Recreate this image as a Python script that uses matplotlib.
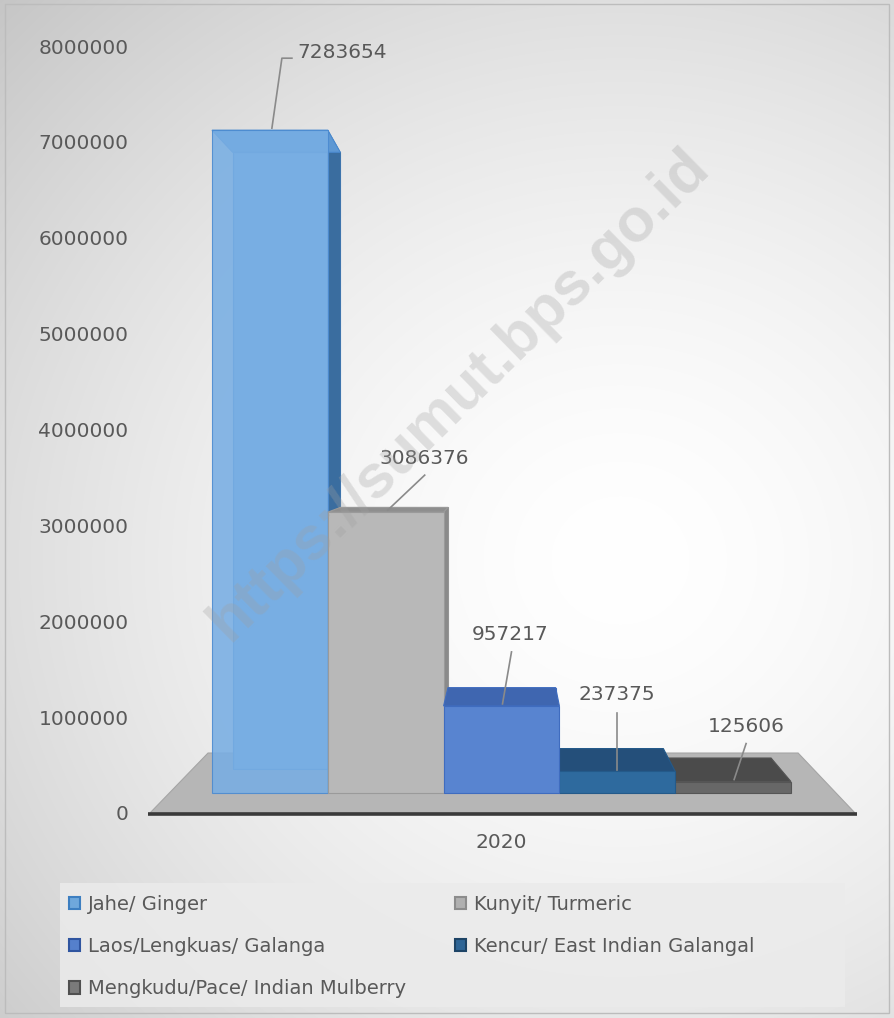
import numpy as np
import matplotlib
matplotlib.use('Agg')
import matplotlib.pyplot as plt
from matplotlib.patches import Polygon, Rectangle, Patch

# ---------------- data ----------------
categories = ['Jahe/ Ginger', 'Kunyit/ Turmeric', 'Laos/Lengkuas/ Galanga',
              'Kencur/ East Indian Galangal', 'Mengkudu/Pace/ Indian Mulberry']
values = [7283654, 3086376, 957217, 237375, 125606]
year_label = '2020'
y_ticks = [0, 1000000, 2000000, 3000000, 4000000, 5000000, 6000000, 7000000, 8000000]

# ---------------- styles ----------------
front_colors = ['#78aee3', '#b8b8b8', '#5884d0', '#2e6a9e', '#676767']
top_colors = ['#5e98d3', '#8e8e8e', '#3f66b0', '#244f7a', '#4b4b4b']
side_colors = ['#3a6d9f', '#8a8a8a', '#34589c', '#1c3f63', '#3c3c3c']
edge_colors = ['#4a8ad0', '#9a9a9a', '#3f6cbf', '#245a8a', '#555555']
front_alpha = [0.88, 1, 1, 1, 1]
legend_face = ['#6fa8dc', '#b0b0b0', '#5580cc', '#2e6596', '#7a7a7a']
legend_edge = ['#3d7fc1', '#8c8c8c', '#2f55a0', '#1d4466', '#505050']
text_color = '#595959'

W, H = 895, 1018
fig = plt.figure(figsize=(W / 100, H / 100), dpi=100)

# ---------------- background ----------------
bg = fig.add_axes([0, 0, 1, 1])
bg.set_xlim(0, W)
bg.set_ylim(H, 0)
bg.axis('off')
yy, xx = np.mgrid[0:H, 0:W]
d = np.sqrt(((xx - 620) / 700.0) ** 2 + ((yy - 560) / 650.0) ** 2)
g = 1 - 0.16 * np.clip(d, 0, 1.4) ** 1.6
rgb = np.dstack([g, g, g])
bg.imshow(rgb, extent=[0, W, H, 0], aspect='auto', zorder=0, interpolation='bilinear')
bg.add_patch(Rectangle((5, 4), W - 11, H - 9, fill=False, ec='#bcbcbc', lw=1, zorder=1))
bg.add_patch(Rectangle((60, 883), 785, 124, fc='#ebebeb', ec='none', alpha=0.85, zorder=1))

# ---------------- main drawing axes ----------------
PX_BAR = 115.8
X_LEFT_PX = 212
BASE_PX = 793
PX_PER_M = 91.0


def px2x(px):
    return (px - X_LEFT_PX) / PX_BAR - 0.5


def py2y(py):
    return (BASE_PX - py) / PX_PER_M * 1e6


def dpx(dx):
    return dx / PX_BAR


def dpy(dy):
    return -dy / PX_PER_M * 1e6


ax = fig.add_axes([0, 0, 1, 1])
ax.set_xlim(px2x(0), px2x(W))
ax.set_ylim(py2y(H), py2y(0))
ax.axis('off')
ax.patch.set_alpha(0)

V = (px2x(506), py2y(445))


def toward(p, k):
    return (p[0] + k * (V[0] - p[0]), p[1] + k * (V[1] - p[1]))


# floor
ff_l = (px2x(150), py2y(813))
ff_r = (px2x(855), py2y(813))
floor = [ff_l, ff_r, toward(ff_r, 0.163), toward(ff_l, 0.163)]
ax.add_patch(Polygon(floor, closed=True, fc='#b6b6b6', ec='#a5a5a5', lw=0.8, zorder=1))
ax.plot([px2x(148), px2x(857)], [py2y(814), py2y(814)], color='#3a3a3a', lw=2.6,
        solid_capstyle='butt', zorder=2)

# bars
xs = np.arange(len(values))
bars = ax.bar(xs, values, width=1.0, color=front_colors, edgecolor=edge_colors, linewidth=0.8)
KB = 0.07
order = sorted(range(len(values)), key=lambda i: -abs(xs[i] - V[0]))
for rank, i in enumerate(order):
    z = 3 + rank * 5
    v = values[i]
    x0, x1 = xs[i] - 0.5, xs[i] + 0.5
    FL0, FR0, FL1, FR1 = (x0, 0), (x1, 0), (x0, v), (x1, v)
    BL0, BR0, BL1, BR1 = toward(FL0, KB), toward(FR0, KB), toward(FL1, KB), toward(FR1, KB)
    ax.add_patch(Polygon([BL0, BR0, BR1, BL1], closed=True, fc=front_colors[i],
                         ec=edge_colors[i], lw=0.8, zorder=z))
    if x1 < V[0]:
        ax.add_patch(Polygon([FR0, FR1, BR1, BR0], closed=True, fc=side_colors[i],
                             ec=side_colors[i], lw=0.5, zorder=z + 1))
    if x0 > V[0]:
        ax.add_patch(Polygon([FL0, FL1, BL1, BL0], closed=True, fc=side_colors[i],
                             ec=side_colors[i], lw=0.5, zorder=z + 1))
    ax.add_patch(Polygon([FL1, FR1, BR1, BL1], closed=True, fc=top_colors[i],
                         ec=edge_colors[i], lw=0.8, zorder=z + 2))
    p = bars.patches[i]
    p.set_zorder(z + 3)
    p.set_alpha(front_alpha[i])

# data labels with leader lines (pixel offsets from bar front-top centre)
label_offsets = [(72, -78), (38, -54), (9, -71), (0, -77), (13, -55)]
leaders = [[(2, -2), (12, -72), (22, -72)],
           [(2, -2), (39, -37)],
           [(1, -2), (10, -54)],
           [(0, -1), (0, -58)],
           [(1, -2), (13, -38)]]
for i, v in enumerate(values):
    ox, oy = label_offsets[i]
    ax.text(xs[i] + dpx(ox), v + dpy(oy), f'{v}', ha='center', va='center',
            fontsize=14.5, color=text_color, zorder=60)
    lx = [xs[i] + dpx(a) for a, b in leaders[i]]
    ly = [v + dpy(b) for a, b in leaders[i]]
    ax.plot(lx, ly, color='#8a8a8a', lw=1.2, zorder=60)

ax.text(xs.mean(), py2y(843), year_label, ha='center', va='center',
        fontsize=14.5, color=text_color, zorder=60)

# ---------------- value axis (tick labels) ----------------
ax_t = fig.add_axes([148 / W, (H - 813) / H, 0.0005, (813 - 46) / H])
ax_t.set_ylim(0, 8000000)
ax_t.set_yticks(y_ticks)
ax_t.set_yticklabels([str(t) for t in y_ticks])
ax_t.set_xticks([])
ax_t.tick_params(axis='y', length=0, pad=14, labelsize=14.5, labelcolor=text_color)
for s in ax_t.spines.values():
    s.set_visible(False)
ax_t.patch.set_alpha(0)

# ---------------- legend ----------------
handles = [Patch(facecolor=legend_face[i], edgecolor=legend_edge[i], lw=1.5) for i in range(5)]
ordr = [0, 2, 4, 1, 3]
fig.legend([handles[i] for i in ordr], [categories[i] for i in ordr], ncol=2,
           loc='upper left', bbox_to_anchor=(53 / W, (H - 879) / H), frameon=False,
           fontsize=14, labelcolor=text_color, handlelength=0.6, handleheight=0.6,
           handletextpad=0.4, labelspacing=1.2, columnspacing=2.5, borderpad=0.3)

# ---------------- watermark ----------------
fig.text(460 / W, 1 - 395 / H, 'https://sumut.bps.go.id', rotation=44.5,
         ha='center', va='center', rotation_mode='anchor', fontsize=44,
         fontweight='bold', family=['Liberation Sans', 'DejaVu Sans'],
         color='#a0a0a0', alpha=0.3, zorder=100)

fig.savefig('out.png', dpi=100)
